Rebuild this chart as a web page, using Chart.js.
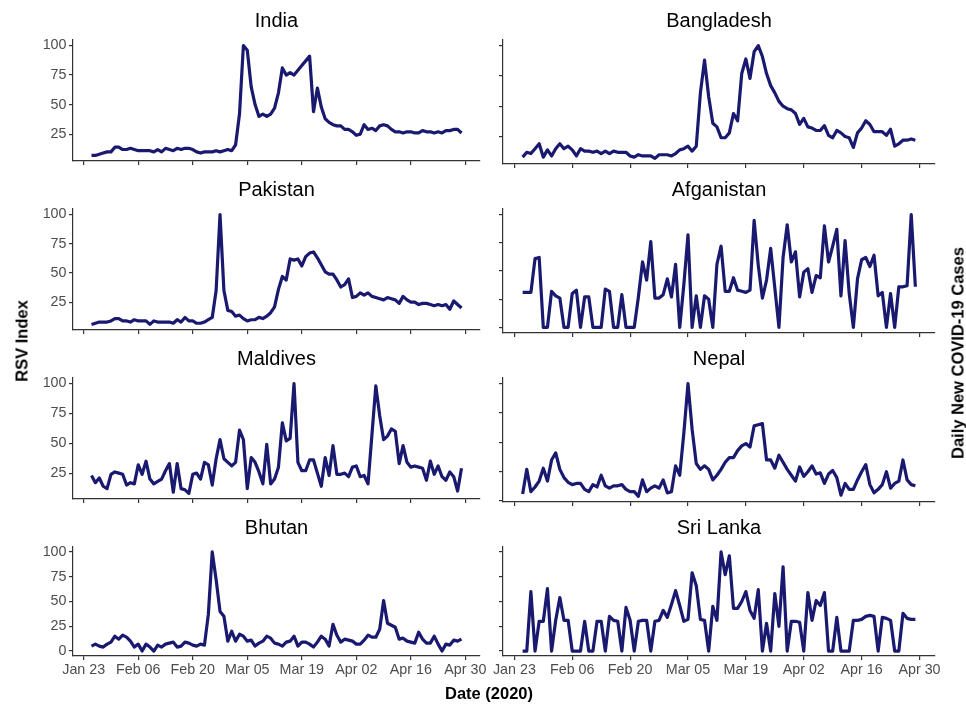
<!DOCTYPE html>
<html>
<head>
<meta charset="utf-8">
<title>RSV Index vs Daily New COVID-19 Cases</title>
<script src="https://cdn.jsdelivr.net/npm/chart.js@4.4.0/dist/chart.umd.min.js"></script>
<style>
  body { margin: 0; background: #fff; }
  #page {
    position: relative;
    width: 966px;
    height: 705px;
    overflow: hidden;
    font-family: 'Liberation Sans', Arial, sans-serif;
  }
  .panel { position: absolute; }
  .axis-title {
    position: absolute;
    font-weight: bold;
    font-size: 16.5px;
    color: #000;
    white-space: nowrap;
    transform: translate(-50%, -50%);
  }
  .axis-title.vertical { transform: translate(-50%, -50%) rotate(-90deg); }
</style>
</head>
<body>
<div id="page">
  <div class="axis-title vertical" style="left:22px; top:341px;">RSV Index</div>
  <div class="axis-title" style="left:489px; top:693px;">Date (2020)</div>
  <div class="axis-title vertical" style="left:958px; top:353px;">Daily New COVID-19 Cases</div>
</div>

<script>
// Panels, in reading order (left to right, top to bottom)
const countries = ['India', 'Bangladesh', 'Pakistan', 'Afganistan', 'Maldives', 'Nepal', 'Bhutan', 'Sri Lanka'];

// Daily values from Jan 25 (day 2 after Jan 23) to Apr 29, 2020
const firstDay = 2;

const india = [
  7, 7, 8, 9, 10, 10, 14, 14, 12, 12,
  13, 12, 11, 11, 11, 11, 10, 12, 10, 13,
  12, 11, 13, 12, 13, 13, 12, 10, 9, 10,
  10, 10, 11, 10, 11, 12, 11, 16, 42, 100,
  96, 65, 50, 40, 42, 40, 42, 47, 60, 81,
  75, 77, 75, 79, 83, 87, 91, 44, 64, 48,
  38, 35, 33, 32, 32, 29, 29, 27, 24, 25,
  33, 29, 30, 28, 32, 33, 32, 29, 27, 27,
  26, 27, 27, 26, 26, 28, 27, 27, 26, 27,
  26, 28, 28, 29, 29, 26
];

const bangladesh = [
  8, 12, 11, 15, 19, 8, 14, 9, 15, 19,
  15, 17, 14, 9, 15, 13, 13, 12, 13, 11,
  13, 11, 13, 12, 12, 12, 9, 8, 10, 9,
  9, 9, 7, 10, 10, 10, 9, 11, 14, 15,
  17, 13, 17, 61, 88, 58, 36, 33, 24, 24,
  28, 44, 38, 77, 89, 73, 95, 100, 91, 77,
  67, 61, 54, 50, 48, 47, 44, 35, 40, 33,
  32, 30, 30, 34, 26, 24, 30, 28, 25, 24,
  16, 28, 32, 38, 35, 29, 29, 29, 26, 31,
  17, 19, 22, 22, 23, 22
];

const pakistan = [
  6, 7, 8, 8, 8, 9, 11, 11, 9, 9,
  8, 10, 9, 9, 9, 6, 9, 8, 8, 8,
  8, 7, 10, 8, 12, 9, 9, 7, 7, 8,
  10, 12, 35, 100, 35, 18, 17, 13, 14, 11,
  9, 10, 10, 12, 11, 13, 16, 21, 36, 47,
  44, 62, 61, 62, 56, 64, 67, 68, 63, 57,
  51, 49, 49, 44, 38, 40, 45, 29, 30, 33,
  31, 33, 30, 29, 28, 27, 29, 28, 27, 24,
  30, 27, 25, 25, 23, 24, 24, 23, 22, 23,
  22, 23, 19, 26, 23, 20
];

const afganistan = [
  31, 31, 31, 61, 62, 0, 0, 32, 28, 26,
  0, 0, 30, 33, 0, 27, 27, 0, 0, 0,
  34, 32, 0, 0, 29, 0, 0, 0, 27, 58,
  42, 76, 26, 26, 29, 43, 27, 56, 0, 38,
  82, 0, 28, 0, 28, 25, 0, 56, 72, 32,
  32, 44, 33, 32, 31, 33, 95, 55, 26, 42,
  70, 35, 0, 62, 91, 58, 67, 27, 49, 52,
  31, 46, 44, 90, 58, 72, 87, 28, 77, 30,
  0, 43, 60, 62, 54, 64, 28, 31, 0, 30,
  0, 36, 36, 37, 100, 36
];

const maldives = [
  23, 17, 21, 14, 12, 24, 26, 25, 24, 15,
  17, 16, 32, 24, 35, 20, 16, 18, 20, 27,
  33, 9, 33, 12, 11, 8, 24, 25, 20, 34,
  32, 15, 37, 53, 37, 34, 31, 34, 61, 53,
  12, 38, 34, 26, 16, 49, 16, 20, 30, 67,
  52, 54, 100, 34, 27, 27, 36, 36, 25, 14,
  38, 23, 48, 24, 24, 25, 22, 30, 31, 22,
  23, 16, 57, 98, 73, 53, 56, 62, 60, 33,
  48, 34, 30, 31, 30, 29, 19, 35, 24, 31,
  22, 19, 26, 22, 10, 29
];

const nepal = [
  6, 27, 8, 12, 17, 28, 17, 35, 41, 27,
  20, 16, 14, 15, 15, 10, 8, 14, 12, 22,
  13, 11, 13, 13, 14, 10, 8, 8, 4, 18,
  8, 11, 13, 11, 18, 7, 8, 30, 22, 58,
  100, 61, 32, 27, 30, 27, 18, 22, 27, 33,
  37, 37, 43, 47, 49, 46, 64, 65, 66, 35,
  35, 28, 39, 33, 27, 22, 17, 29, 21, 25,
  30, 23, 24, 15, 23, 26, 20, 5, 15, 10,
  10, 18, 25, 31, 14, 7, 10, 14, 25, 11,
  15, 17, 35, 18, 14, 13
];

const bhutan = [
  5, 7, 5, 4, 7, 9, 15, 12, 16, 14,
  10, 4, 7, 0, 7, 4, 0, 6, 4, 7,
  8, 9, 4, 5, 9, 8, 6, 5, 7, 6,
  37, 100, 72, 40, 35, 10, 20, 10, 17, 15,
  10, 11, 5, 8, 10, 15, 13, 8, 7, 5,
  9, 10, 15, 5, 9, 9, 7, 4, 9, 15,
  12, 5, 27, 16, 9, 12, 11, 10, 7, 7,
  11, 16, 14, 14, 22, 51, 28, 26, 24, 12,
  13, 10, 9, 8, 19, 12, 8, 8, 15, 7,
  0, 7, 6, 11, 10, 12
];

const sriLanka = [
  0, 0, 60, 0, 30, 30, 63, 0, 31, 54,
  31, 31, 0, 0, 0, 30, 0, 0, 30, 30,
  0, 35, 31, 30, 0, 44, 31, 0, 30, 31,
  31, 0, 30, 31, 41, 34, 47, 61, 46, 30,
  32, 79, 66, 32, 31, 0, 45, 31, 100, 77,
  96, 43, 43, 50, 60, 41, 33, 62, 0, 28,
  0, 58, 25, 85, 0, 30, 30, 29, 0, 59,
  31, 51, 46, 59, 0, 0, 34, 0, 0, 0,
  31, 31, 32, 35, 36, 35, 0, 34, 33, 31,
  0, 0, 38, 33, 32, 32
];

const seriesList = [india, bangladesh, pakistan, afganistan, maldives, nepal, bhutan, sriLanka];

// Axis ticks
const yTickValues = [0, 25, 50, 75, 100];
const xTickDays = [0, 14, 28, 42, 56, 70, 84, 98];
const xTickLabels = ['Jan 23', 'Feb 06', 'Feb 20', 'Mar 05', 'Mar 19', 'Apr 02', 'Apr 16', 'Apr 30'];

// Layout of the plot areas (page pixels)
const colLeft = [73, 503];
const colRight = [480, 935];
const rowTop = [40, 209, 378, 547];
const rowBottom = [164, 333, 502, 656];
const canvasX = [0, 485];
const canvasW = [495, 470];
const titleH = 34;

const FONT = "'Liberation Sans', Arial, sans-serif";
const LINE_COLOR = '#191970';
const AXIS_COLOR = '#333333';
const TICK_COLOR = '#4d4d4d';

Chart.defaults.font.family = FONT;
Chart.defaults.animation = false;

const page = document.getElementById('page');

countries.forEach(function(name, i) {
    const col = i % 2;
    const row = Math.floor(i / 2);
    const values = seriesList[i];
    const bottomRow = row === 3;
    const xH = bottomRow ? 30 : 8;

    const left = canvasX[col];
    const width = canvasW[col];
    const top = rowTop[row] - titleH;
    const height = titleH + (rowBottom[row] - rowTop[row]) + xH;
    const yW = colLeft[col] - left;
    const padRight = left + width - colRight[col];

    const box = document.createElement('div');
    box.className = 'panel';
    box.style.left = left + 'px';
    box.style.top = top + 'px';
    box.style.width = width + 'px';
    box.style.height = height + 'px';
    const canvas = document.createElement('canvas');
    box.appendChild(canvas);
    page.insertBefore(box, page.firstChild);

    // ggplot-style 5% expansion around the data range
    const lo = Math.min(...values);
    const hi = Math.max(...values);
    const pad = (hi - lo) * 0.05;
    const xPad = (values.length - 1) * 0.05;

    new Chart(canvas, {
        type: 'line',
        data: {
            datasets: [{
                label: name,
                data: values.map((v, k) => ({ x: firstDay + k, y: v })),
                borderColor: LINE_COLOR,
                borderWidth: 3.2,
                borderJoinStyle: 'round',
                pointRadius: 0,
                tension: 0,
                fill: false
            }]
        },
        options: {
            responsive: true,
            maintainAspectRatio: false,
            devicePixelRatio: 1,
            events: [],
            layout: { padding: { left: 0, right: padRight, top: 0, bottom: 0 } },
            plugins: {
                legend: { display: false },
                tooltip: { enabled: false },
                title: {
                    display: true,
                    text: name,
                    fullSize: false,
                    color: '#000',
                    font: { size: 20, weight: 'normal', lineHeight: 1.14 },
                    padding: { top: 4, bottom: 7.2 }
                }
            },
            scales: {
                x: {
                    type: 'linear',
                    bounds: 'data',
                    min: firstDay - xPad,
                    max: firstDay + values.length - 1 + xPad,
                    afterFit: function(scale) { scale.height = xH; },
                    afterBuildTicks: function(scale) {
                        scale.ticks = xTickDays.map(d => ({ value: d }));
                    },
                    ticks: {
                        display: bottomRow,
                        autoSkip: false,
                        maxRotation: 0,
                        color: TICK_COLOR,
                        font: { size: 14.3 },
                        padding: 1,
                        callback: function(value) {
                            return xTickLabels[xTickDays.indexOf(value)];
                        }
                    },
                    grid: {
                        drawOnChartArea: false,
                        drawTicks: true,
                        tickLength: 4,
                        color: AXIS_COLOR,
                        lineWidth: 1.2
                    },
                    border: { display: true, color: AXIS_COLOR, width: 1.2 }
                },
                y: {
                    type: 'linear',
                    bounds: 'data',
                    min: lo - pad,
                    max: hi + pad,
                    afterFit: function(scale) { scale.width = yW; },
                    afterBuildTicks: function(scale) {
                        scale.ticks = yTickValues
                            .filter(v => v >= scale.min && v <= scale.max)
                            .map(v => ({ value: v }));
                    },
                    ticks: {
                        display: col === 0,
                        color: TICK_COLOR,
                        font: { size: 14.3 },
                        padding: 2.5
                    },
                    grid: {
                        drawOnChartArea: false,
                        drawTicks: true,
                        tickLength: 4,
                        color: AXIS_COLOR,
                        lineWidth: 1.2
                    },
                    border: { display: true, color: AXIS_COLOR, width: 1.2 }
                }
            }
        }
    });
});
</script>
</body>
</html>
